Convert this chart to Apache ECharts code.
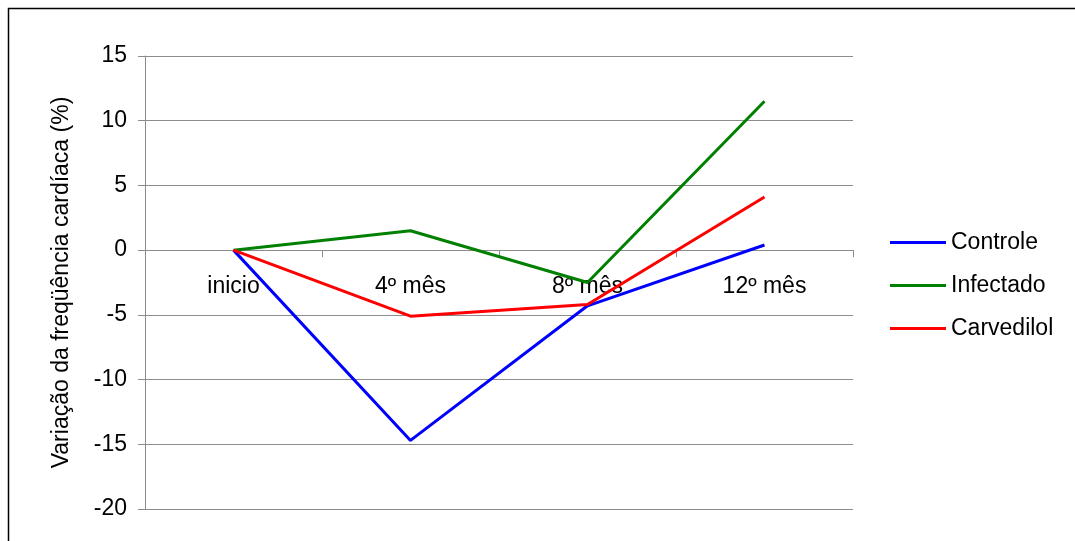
<!DOCTYPE html>
<html>
<head>
<meta charset="utf-8">
<script src="https://cdn.jsdelivr.net/npm/echarts@6/dist/echarts.min.js"></script>
<style>
  html, body { margin: 0; padding: 0; background: #fff; }
  #chart { width: 1075px; height: 541px; }
</style>
</head>
<body>
<div id="chart"></div>
<script>
// Heart-rate variation (%) per group over the follow-up
const categories = ['inicio', '4º mês', '8º mês', '12º mês'];
const controle = [0, -14.7, -4.3, 0.4];
const infectado = [0, 1.5, -2.5, 11.5];
const carvedilol = [0, -5.1, -4.2, 4.1];
const yTicks = { min: -20, max: 15, interval: 5 };

const font = 'Liberation Sans, Arial, sans-serif';
const fontSize = 23;
const axisGray = '#8c8c8c';

const chart = echarts.init(document.getElementById('chart'), null, { renderer: 'canvas' });

function lineSeries(name, data, color) {
  return {
    name: name,
    type: 'line',
    data: data,
    symbol: 'none',
    lineStyle: { color: color, width: 3 },
    itemStyle: { color: color },
    z: 3,
    animation: false
  };
}

chart.setOption({
  animation: false,
  backgroundColor: '#fff',
  graphic: [{
    type: 'rect',
    shape: { x: 8.5, y: 8.5, width: 1200, height: 700 },
    style: { fill: 'none', stroke: '#000', lineWidth: 1.5 },
    silent: true
  }],
  grid: { left: 145, right: 222, top: 56, bottom: 32, outerBoundsMode: 'none', containLabel: false },
  legend: {
    orient: 'vertical',
    left: 885,
    top: 226,
    icon: 'rect',
    itemWidth: 56,
    itemHeight: 3,
    itemGap: 20,
    textStyle: { fontFamily: font, fontSize: fontSize, color: '#000' },
    data: ['Controle', 'Infectado', 'Carvedilol']
  },
  xAxis: {
    type: 'category',
    data: categories,
    boundaryGap: true,
    axisLine: { onZero: true, lineStyle: { color: axisGray, width: 1 } },
    axisTick: { show: true, inside: false, length: 7, lineStyle: { color: axisGray } },
    axisLabel: { show: false },
    splitLine: { show: false }
  },
  yAxis: {
    type: 'value',
    min: yTicks.min,
    max: yTicks.max,
    interval: yTicks.interval,
    name: 'Variação da freqüência cardíaca (%)',
    nameLocation: 'middle',
    nameGap: 72,
    nameTextStyle: { fontFamily: font, fontSize: fontSize, color: '#000' },
    axisLine: { show: true, lineStyle: { color: axisGray, width: 1 } },
    axisTick: { show: true, length: 7, lineStyle: { color: axisGray } },
    axisLabel: { fontFamily: font, fontSize: fontSize, color: '#000', margin: 18 },
    splitLine: { show: true, lineStyle: { color: axisGray, width: 1 } }
  },
  series: [
    {
      // category names sit just under the zero line
      name: 'categoryLabels',
      type: 'scatter',
      data: categories.map(c => [c, 0]),
      symbolSize: 0,
      silent: true,
      z: 1,
      itemStyle: { opacity: 1, color: '#000' },
      label: {
        show: true,
        position: 'bottom',
        distance: 25,
        formatter: p => p.value[0],
        fontFamily: font,
        fontSize: fontSize,
        color: '#000',
        opacity: 1,
        textBorderWidth: 0
      }
    },
    lineSeries('Controle', controle, '#0000ff'),
    lineSeries('Infectado', infectado, '#008000'),
    lineSeries('Carvedilol', carvedilol, '#ff0000')
  ]
});
</script>
</body>
</html>
